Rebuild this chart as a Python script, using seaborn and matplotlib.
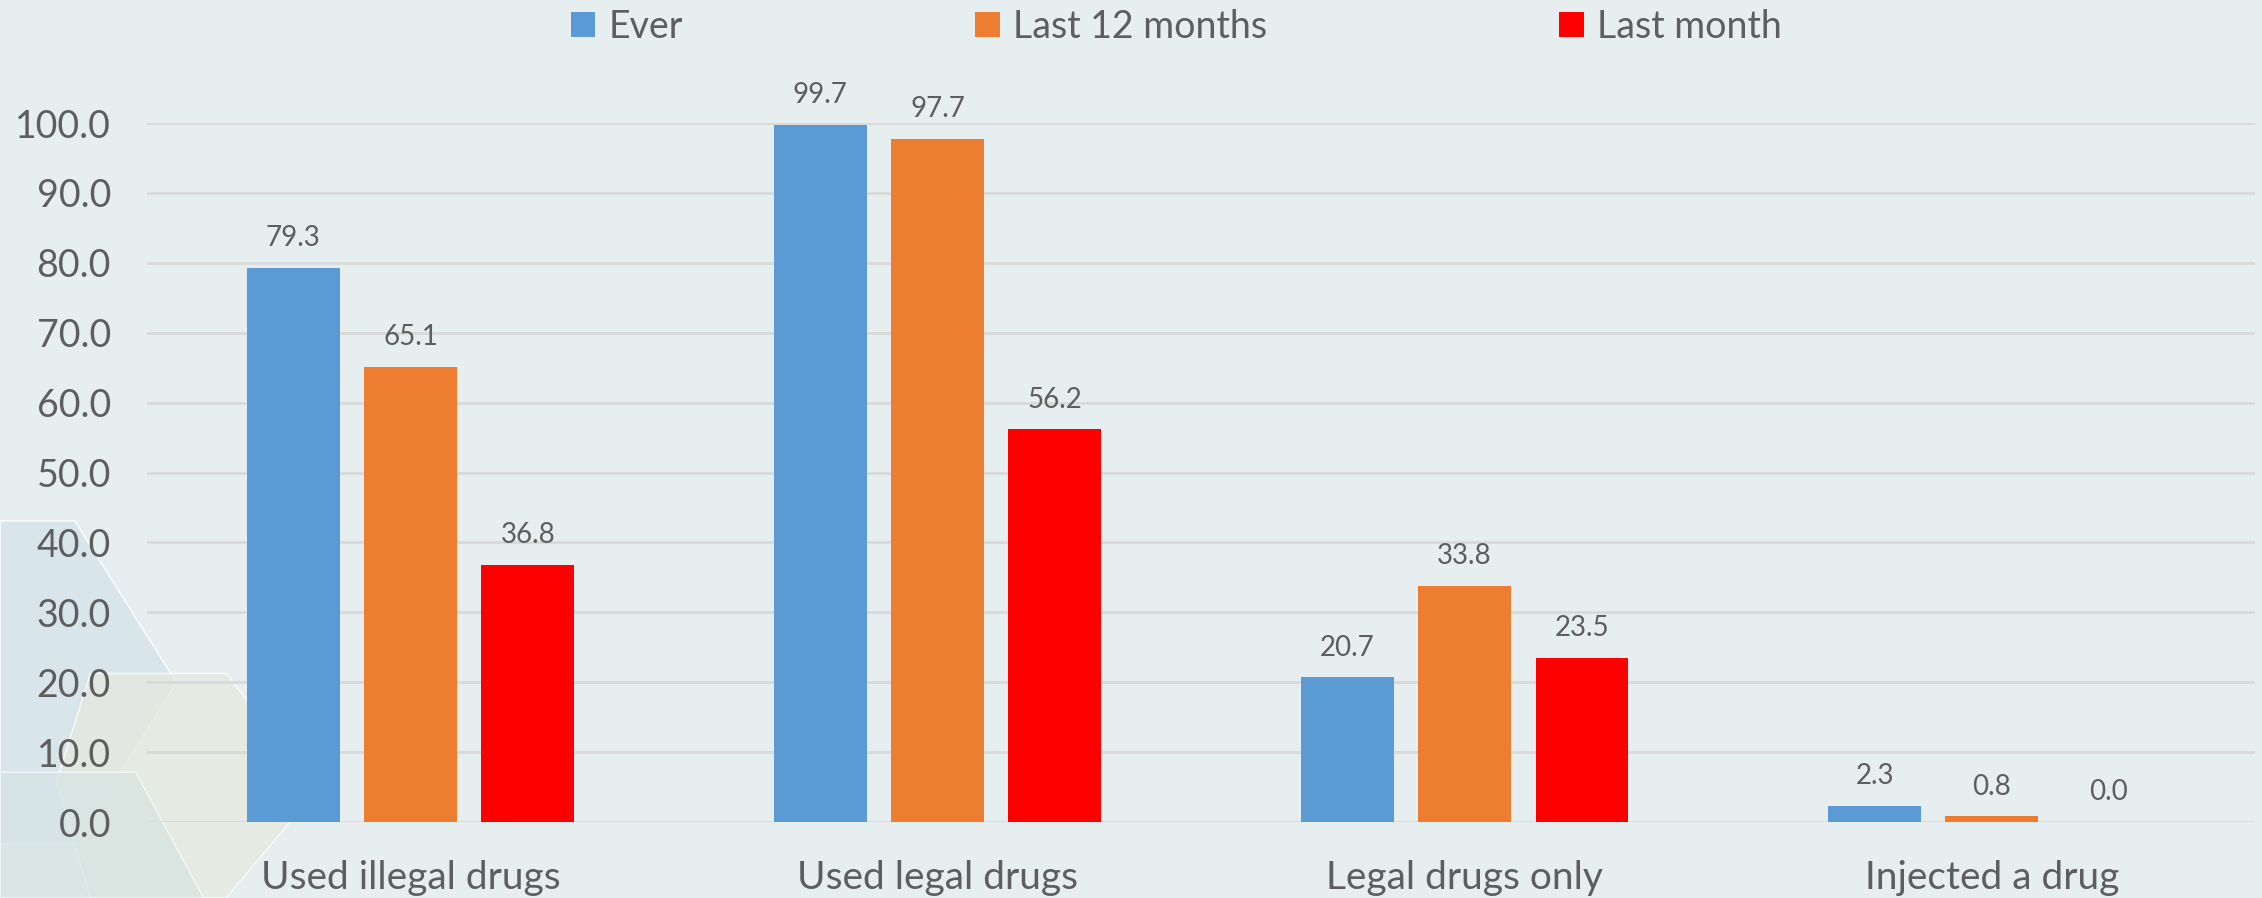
import numpy as np
import pandas as pd
import matplotlib.pyplot as plt
import seaborn as sns
from matplotlib.patches import Polygon


# data
categories = ["Used illegal drugs", "Used legal drugs", "Legal drugs only", "Injected a drug"]
periods = ["Ever", "Last 12 months", "Last month"]
ever = [79.3, 99.7, 20.7, 2.3]
last_12_months = [65.1, 97.7, 33.8, 0.8]
last_month = [36.8, 56.2, 23.5, 0.0]
y_ticks = [0, 10, 20, 30, 40, 50, 60, 70, 80, 90, 100]

colors = ["#5B9BD5", "#ED7D31", "#FF0000"]
bg = "#E6EEF0"
txt = "#5E5E5E"

rows = []
for period, vals in zip(periods, [ever, last_12_months, last_month]):
    for cat, v in zip(categories, vals):
        rows.append([cat, period, v])
df = pd.DataFrame(rows, columns=["category", "period", "value"])


# plot
sns.set_style("white")
plt.rcParams['font.family'] = ['Lato', 'DejaVu Sans']

fig = plt.figure(figsize=(22.62, 8.98), dpi=100, facecolor=bg)

# faint background hexagons (decoration)
fig.patches.append(Polygon([[0, 0.42], [0.033, 0.42], [0.078, 0.24], [0.033, 0.06], [0, 0.06]],
                           closed=True, transform=fig.transFigure, facecolor="#D8E5EA", zorder=-5))
fig.patches.append(Polygon([[0.04, 0.25], [0.1, 0.25], [0.14, 0.12], [0.1, 0.0], [0.04, 0.0], [0.025, 0.13]],
                           closed=True, transform=fig.transFigure, facecolor="#E5E9DF", alpha=0.8, zorder=-4))
fig.patches.append(Polygon([[0, 0.14], [0.06, 0.14], [0.09, 0.0], [0, 0.0]],
                           closed=True, transform=fig.transFigure, facecolor="#D6E4E3", alpha=0.7, zorder=-3))

ax = fig.add_axes([0.065, 0.0846, 0.932, 0.7784])
ax.set_facecolor("none")

sns.barplot(data=df, x="category", y="value", hue="period", palette=colors,
            width=0.667, gap=0.21, saturation=1, linewidth=0, ax=ax, zorder=3)

for cont in ax.containers:
    ax.bar_label(cont, fmt="%.1f", padding=12, fontsize=20, color=txt)

ax.set_ylim(0, 100)
ax.set_xlim(-0.5, 3.5)
ax.set_yticks(y_ticks)
ax.set_yticklabels(["%.1f" % t for t in y_ticks], fontsize=27, color=txt)
ax.tick_params(axis="x", labelsize=28, labelcolor=txt, length=0, pad=27)
ax.tick_params(axis="y", length=0, pad=26)
ax.grid(axis="y", color="#D9D9D9", linewidth=2, zorder=0)
ax.set_axisbelow(True)
for s in ax.spines.values():
    s.set_visible(False)
ax.set_xlabel("")
ax.set_ylabel("")

handles, labels = ax.get_legend_handles_labels()
ax.legend(handles, labels, loc="center", bbox_to_anchor=(0.52, 0.97), bbox_transform=fig.transFigure,
          ncol=3, frameon=False, labelcolor=txt, handlelength=0.65, handleheight=0.65,
          handletextpad=0.35, columnspacing=7.8, prop={"size": 27})

fig.savefig("out.png", dpi=100, facecolor=bg)
